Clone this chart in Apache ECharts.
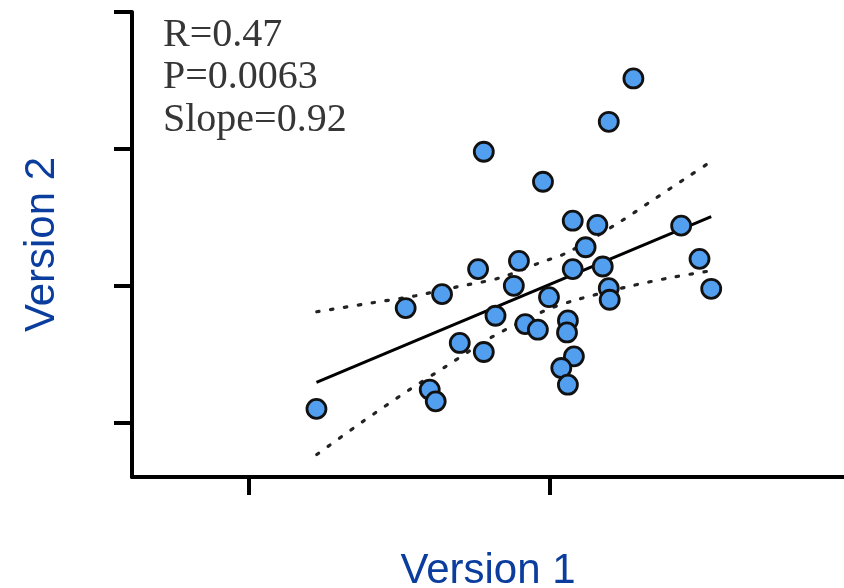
<!DOCTYPE html>
<html>
<head>
<meta charset="utf-8">
<script src="https://cdn.jsdelivr.net/npm/echarts@6/dist/echarts.min.js"></script>
<style>
html,body{margin:0;padding:0;background:#fff;}
#chart{width:844px;height:588px;}
</style>
</head>
<body>
<div id="chart"></div>
<script>
// Scatter points (Version 1, Version 2)
const xValues = [2.279, 2.197, 1.781, 1.978, 2.077, 2.159, 2.438, 2.120, 2.499, 1.762, 1.898,
  2.077, 2.177, 2.538, 1.881, 2.197, 2.200, 1.642, 1.521, 1.998, 1.820, 1.919, 1.961, 2.061,
  2.058, 1.701, 1.781, 2.081, 2.039, 2.061, 1.601, 1.621, 1.224];
const yValues = [3.514, 3.197, 2.978, 2.759, 2.474, 2.443, 2.438, 2.280, 2.195, 2.120, 2.180,
  2.120, 2.139, 1.976, 1.998, 1.981, 1.896, 1.937, 1.835, 1.915, 1.779, 1.718, 1.677, 1.745,
  1.657, 1.580, 1.514, 1.482, 1.397, 1.275, 1.239, 1.153, 1.098];
// Regression line
const fitX = [1.224, 2.538];
const fitY = [1.292, 2.504];
// Confidence band (dotted)
const upperX = [1.225, 1.411, 1.554, 1.694, 1.834, 1.967, 2.057, 2.223, 2.339, 2.459, 2.535];
const upperY = [1.808, 1.874, 1.925, 1.991, 2.056, 2.166, 2.239, 2.450, 2.618, 2.793, 2.903];
const lowerX = [1.225, 1.378, 1.534, 1.654, 1.810, 1.983, 2.077, 2.259, 2.399, 2.535];
const lowerY = [0.764, 1.005, 1.239, 1.407, 1.626, 1.815, 1.888, 1.991, 2.056, 2.107];
// Ticks
const xTicks = [1, 2];
const yTicks = [1, 2, 3, 4];
// Labels
const xTitle = 'Version 1';
const yTitle = 'Version 2';
const statLines = ['R=0.47', 'P=0.0063', 'Slope=0.92'];

const zip = (a, b) => a.map((v, i) => [v, b[i]]);
const titleColor = '#0b3d9e';

const chart = echarts.init(document.getElementById('chart'), null, {renderer: 'canvas'});
const axisCommon = {
  type: 'value',
  splitLine: {show: false},
  axisLabel: {show: false},
  axisLine: {show: true, onZero: false, lineStyle: {color: '#000', width: 4}},
  axisTick: {show: true, length: 18, lineStyle: {color: '#000', width: 4}},
  nameLocation: 'middle',
  nameTextStyle: {color: titleColor, fontFamily: 'Liberation Sans', fontSize: 42}
};
chart.setOption({
  animation: false,
  backgroundColor: '#fff',
  grid: {left: 132, top: 12, right: 0, bottom: 111, containLabel: false, outerBoundsMode: 'none'},
  xAxis: Object.assign({}, axisCommon, {
    min: 0.61, max: 2.98,
    name: xTitle, nameGap: 73,
    axisTick: Object.assign({}, axisCommon.axisTick, {customValues: xTicks})
  }),
  yAxis: Object.assign({}, axisCommon, {
    min: 0.6, max: 4,
    name: yTitle, nameGap: 69, nameRotate: 90,
    axisTick: Object.assign({}, axisCommon.axisTick, {customValues: yTicks})
  }),
  graphic: statLines.map((t, i) => ({
    type: 'text',
    x: 163, y: 35 + i * 42.5,
    style: {text: t, fill: '#363636', font: '40px "Liberation Serif"', verticalAlign: 'middle', align: 'left'}
  })),
  series: [
    {type: 'line', data: zip(fitX, fitY), showSymbol: false, lineStyle: {color: '#000', width: 3}, z: 2},
    {type: 'line', data: zip(upperX, upperY), showSymbol: false, smooth: 0.3,
     lineStyle: {color: '#222', width: 3.2, type: [2.5, 11.5], cap: 'round'}, z: 2},
    {type: 'line', data: zip(lowerX, lowerY), showSymbol: false, smooth: 0.3,
     lineStyle: {color: '#222', width: 3.2, type: [2.5, 11.5], cap: 'round'}, z: 2},
    {type: 'scatter', data: zip(xValues, yValues), symbol: 'circle', symbolSize: 19,
     itemStyle: {color: '#529ff0', borderColor: '#111', borderWidth: 2.8, opacity: 1}, z: 5}
  ]
});
</script>
</body>
</html>
